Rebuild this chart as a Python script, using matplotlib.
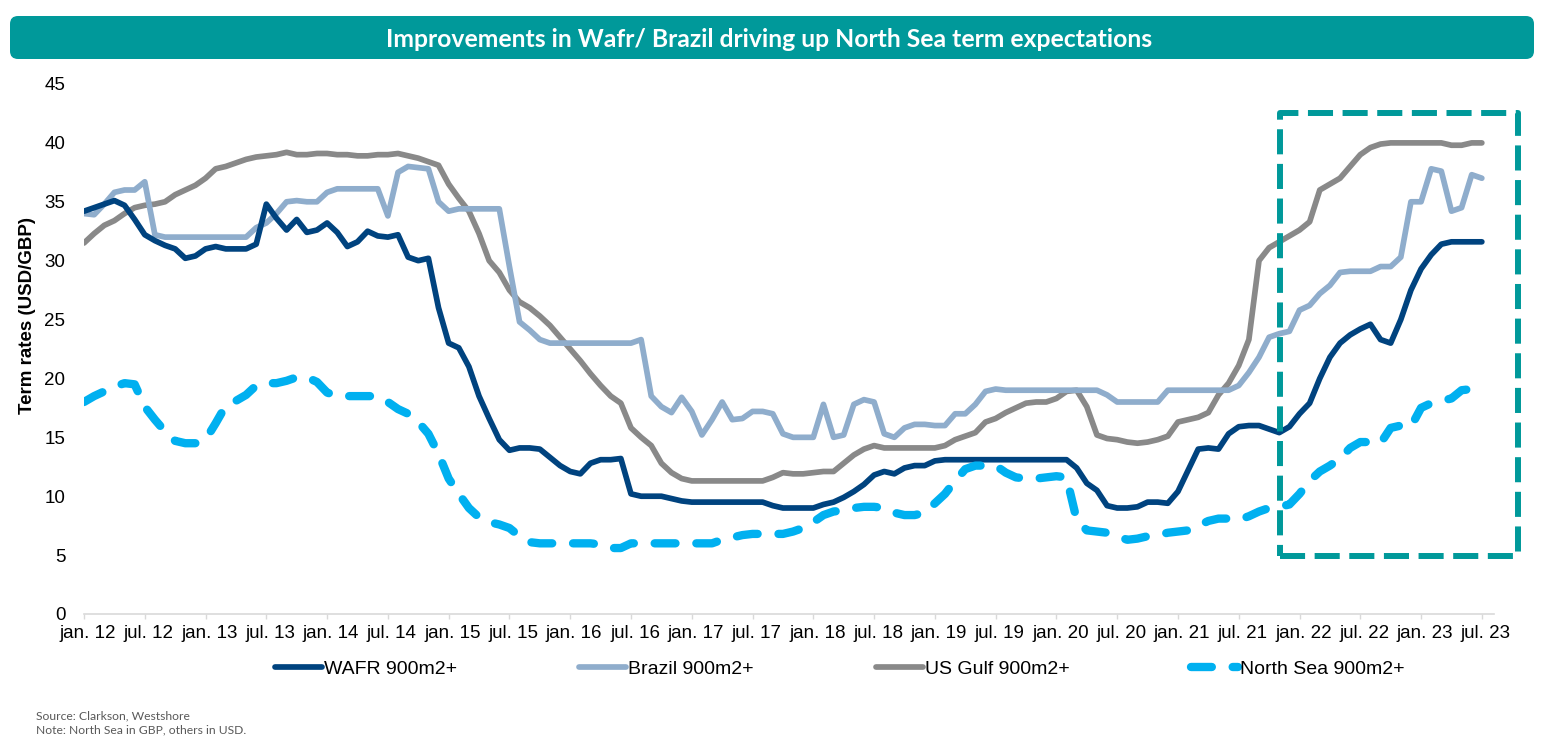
import matplotlib
matplotlib.use("Agg")
import matplotlib.pyplot as plt
import matplotlib.transforms as mtransforms
from matplotlib.patches import FancyBboxPatch, Rectangle
import numpy as np

# ---------------- data ----------------
years = list(range(12, 24))
tick_labels = []
for y in years:
    tick_labels += [f"jan. {y}", f"jul. {y}"]

wafr = [34.2, 34.5, 34.8, 35.1, 34.7, 33.5, 32.2, 31.7, 31.3, 31.0,
        30.2, 30.4, 31.0, 31.2, 31.0, 31.0, 31.0, 31.4, 34.8, 33.6,
        32.6, 33.5, 32.4, 32.6, 33.2, 32.4, 31.2, 31.6, 32.5, 32.1,
        32.0, 32.2, 30.3, 30.0, 30.2, 26.0, 23.0, 22.6, 21.0, 18.5,
        16.6, 14.8, 13.9, 14.1, 14.1, 14.0, 13.3, 12.6, 12.1, 11.9,
        12.8, 13.1, 13.1, 13.2, 10.2, 10.0, 10.0, 10.0, 9.8, 9.6,
        9.5, 9.5, 9.5, 9.5, 9.5, 9.5, 9.5, 9.5, 9.2, 9.0,
        9.0, 9.0, 9.0, 9.3, 9.5, 9.9, 10.4, 11.0, 11.8, 12.1,
        11.9, 12.4, 12.6, 12.6, 13.0, 13.1, 13.1, 13.1, 13.1, 13.1,
        13.1, 13.1, 13.1, 13.1, 13.1, 13.1, 13.1, 13.1, 12.4, 11.1,
        10.5, 9.2, 9.0, 9.0, 9.1, 9.5, 9.5, 9.4, 10.4, 12.2,
        14.0, 14.1, 14.0, 15.3, 15.9, 16.0, 16.0, 15.7, 15.4, 15.9,
        17.0, 17.9, 20.0, 21.8, 23.0, 23.7, 24.2, 24.6, 23.3, 23.0,
        25.0, 27.5, 29.3, 30.5, 31.4, 31.6, 31.6, 31.6, 31.6]

brazil = [34.0, 33.9, 34.8, 35.8, 36.0, 36.0, 36.7, 32.2, 32.0, 32.0,
          32.0, 32.0, 32.0, 32.0, 32.0, 32.0, 32.0, 32.8, 33.2, 34.0,
          35.0, 35.1, 35.0, 35.0, 35.8, 36.1, 36.1, 36.1, 36.1, 36.1,
          33.8, 37.5, 38.0, 37.9, 37.8, 35.0, 34.2, 34.4, 34.4, 34.4,
          34.4, 34.4, 29.5, 24.8, 24.1, 23.3, 23.0, 23.0, 23.0, 23.0,
          23.0, 23.0, 23.0, 23.0, 23.0, 23.3, 18.5, 17.6, 17.1, 18.4,
          17.2, 15.2, 16.5, 18.0, 16.5, 16.6, 17.2, 17.2, 17.0, 15.3,
          15.0, 15.0, 15.0, 17.8, 15.0, 15.2, 17.8, 18.2, 18.0, 15.3,
          15.0, 15.8, 16.1, 16.1, 16.0, 16.0, 17.0, 17.0, 17.8, 18.9,
          19.1, 19.0, 19.0, 19.0, 19.0, 19.0, 19.0, 19.0, 19.0, 19.0,
          19.0, 18.6, 18.0, 18.0, 18.0, 18.0, 18.0, 19.0, 19.0, 19.0,
          19.0, 19.0, 19.0, 19.0, 19.4, 20.5, 21.8, 23.5, 23.8, 24.0,
          25.8, 26.2, 27.2, 27.9, 29.0, 29.1, 29.1, 29.1, 29.5, 29.5,
          30.3, 35.0, 35.0, 37.8, 37.6, 34.2, 34.5, 37.3, 37.0]

us_gulf = [31.5, 32.3, 33.0, 33.4, 34.0, 34.5, 34.7, 34.8, 35.0, 35.6,
           36.0, 36.4, 37.0, 37.8, 38.0, 38.3, 38.6, 38.8, 38.9, 39.0,
           39.2, 39.0, 39.0, 39.1, 39.1, 39.0, 39.0, 38.9, 38.9, 39.0,
           39.0, 39.1, 38.9, 38.7, 38.4, 38.1, 36.5, 35.3, 34.2, 32.3,
           30.0, 29.0, 27.5, 26.5, 26.0, 25.3, 24.5, 23.5, 22.5, 21.5,
           20.4, 19.4, 18.5, 17.9, 15.8, 15.0, 14.3, 12.8, 12.0, 11.5,
           11.3, 11.3, 11.3, 11.3, 11.3, 11.3, 11.3, 11.3, 11.6, 12.0,
           11.9, 11.9, 12.0, 12.1, 12.1, 12.8, 13.5, 14.0, 14.3, 14.1,
           14.1, 14.1, 14.1, 14.1, 14.1, 14.3, 14.8, 15.1, 15.4, 16.3,
           16.6, 17.1, 17.5, 17.9, 18.0, 18.0, 18.3, 18.9, 19.0, 17.6,
           15.2, 14.9, 14.8, 14.6, 14.5, 14.6, 14.8, 15.1, 16.3, 16.5,
           16.7, 17.1, 18.6, 19.6, 21.1, 23.3, 30.0, 31.1, 31.6, 32.1,
           32.6, 33.3, 36.0, 36.5, 37.0, 38.0, 39.0, 39.6, 39.9, 40.0,
           40.0, 40.0, 40.0, 40.0, 40.0, 39.8, 39.8, 40.0, 40.0]

north_sea = [18.0, 18.5, 18.9, 19.3, 19.6, 19.5, 17.6, 16.5, 15.5, 14.7,
             14.5, 14.5, 14.8, 16.2, 17.7, 18.1, 18.6, 19.4, 19.6, 19.6,
             19.8, 20.1, 20.1, 19.7, 18.8, 18.5, 18.5, 18.5, 18.5, 18.5,
             18.0, 17.4, 17.0, 16.3, 15.3, 13.6, 11.5, 10.2, 9.0, 8.2,
             7.8, 7.6, 7.3, 6.6, 6.1, 6.0, 6.0, 6.0, 6.0, 6.0,
             6.0, 5.9, 5.6, 5.6, 6.0, 6.0, 6.0, 6.0, 6.0, 6.0,
             6.0, 6.0, 6.0, 6.3, 6.5, 6.7, 6.8, 6.8, 6.8, 6.8,
             7.0, 7.3, 7.8, 8.4, 8.7, 8.8, 9.0, 9.1, 9.1, 9.0,
             8.6, 8.4, 8.4, 8.6, 9.4, 10.2, 11.3, 12.3, 12.6, 12.6,
             12.6, 12.0, 11.6, 11.5, 11.5, 11.6, 11.7, 11.6, 8.0, 7.1,
             7.0, 6.9, 6.6, 6.3, 6.4, 6.6, 6.7, 6.9, 7.0, 7.1,
             7.5, 7.9, 8.1, 8.1, 8.0, 8.3, 8.7, 9.0, 9.1, 9.3,
             10.2, 11.3, 12.1, 12.6, 13.2, 14.1, 14.6, 14.6, 14.5, 15.8,
             16.0, 15.9, 17.5, 17.9, 18.1, 18.3, 19.0, 19.1, 19.0]

series_names = ["WAFR 900m2+", "Brazil 900m2+", "US Gulf 900m2+", "North Sea 900m2+"]

# ---------------- figure ----------------
W, H = 1544, 742
fig = plt.figure(figsize=(W / 100, H / 100), dpi=100)
plt.rcParams['font.family'] = ['Liberation Sans', 'DejaVu Sans']

# overlay axes in pixel coordinates for decorations
deco = fig.add_axes([0, 0, 1, 1], zorder=0)
deco.set_xlim(0, W)
deco.set_ylim(H, 0)
deco.axis("off")

TEAL = "#00999A"
banner = FancyBboxPatch((10, 16), 1524, 43, boxstyle="round,pad=0,rounding_size=8",
                        facecolor=TEAL, edgecolor="none")
deco.add_patch(banner)

ax = fig.add_axes([84 / W, 1 - 614 / H, 1410 / W, 530 / H], zorder=2)
ax.patch.set_alpha(0)

months = np.arange(len(wafr))
C_WAFR = "#00437F"
C_BRA = "#8FADCC"
C_GULF = "#898989"
C_NS = "#00B0F0"

lw_main = 4.1
ax.plot(months, us_gulf, color=C_GULF, lw=lw_main, solid_capstyle="round",
        solid_joinstyle="round", label=series_names[2], zorder=3)
ax.plot(months, brazil, color=C_BRA, lw=lw_main, solid_capstyle="round",
        solid_joinstyle="round", label=series_names[1], zorder=4)
ax.plot(months, wafr, color=C_WAFR, lw=lw_main, solid_capstyle="round",
        solid_joinstyle="round", label=series_names[0], zorder=5)
ax.plot(months[:len(north_sea)], north_sea, color=C_NS, lw=6.0, dashes=(2.5, 2.5),
        dash_capstyle="round", dash_joinstyle="round", label=series_names[3], zorder=6)

ax.set_xlim(0, 139.2)
ax.set_ylim(0, 45)
ax.set_yticks(np.arange(0, 46, 5))
ax.set_xticks(np.arange(0, 6 * len(tick_labels), 6))
ax.set_xticklabels(tick_labels)

for s in ["top", "right", "left"]:
    ax.spines[s].set_visible(False)
ax.spines["bottom"].set_color("#D9D9D9")
ax.spines["bottom"].set_linewidth(1.2)
ax.tick_params(axis="y", length=0, pad=13.5, labelsize=13.5, labelcolor="black")
ax.tick_params(axis="x", length=3.6, width=1.0, color="#D9D9D9", pad=4,
               labelsize=13.5, labelcolor="black")
offset = mtransforms.ScaledTranslation(4 / 100, 0, fig.dpi_scale_trans)
for lab in ax.get_xticklabels():
    lab.set_transform(lab.get_transform() + offset)

# highlight box
rect = Rectangle((118.1, 4.9), 23.5, 37.6, fill=False, edgecolor=TEAL, lw=4.3,
                 linestyle=(0, (4.2, 1.6)), joinstyle="round", clip_on=False, zorder=7)
ax.add_patch(rect)

# y label
fig.text(28 / W, 1 - 315 / H, "Term rates (USD/GBP)", rotation=90, ha="center",
         va="center", fontsize=13.5, fontweight="bold", color="black")

# title
title = fig.text(769 / W, 1 - 47 / H, "Improvements in Wafr/ Brazil driving up North Sea term expectations",
                 ha="center", va="baseline", color="white", fontsize=16, fontweight="bold",
                 family=["Lato", "DejaVu Sans"])

src1 = fig.text(36 / W, 1 - 719 / H, "Source: Clarkson, Westshore", ha="left", va="baseline",
                fontsize=8.5, color="#595959", family=["Lato", "DejaVu Sans"])
src2 = fig.text(36 / W, 1 - 733 / H, "Note: North Sea in GBP, others in USD.", ha="left",
                va="baseline", fontsize=8.5, color="#595959", family=["Lato", "DejaVu Sans"])

# legend
handles, labels = ax.get_legend_handles_labels()
order = [labels.index(n) for n in series_names]
leg = fig.legend([handles[i] for i in order], [labels[i] for i in order],
                 loc="center", bbox_to_anchor=(840 / W, 1 - 669 / H), ncol=4,
                 frameon=False, fontsize=14, handlelength=2.42, handletextpad=0.1,
                 columnspacing=6.26)

# fit text widths to reference
fig.canvas.draw()
r = fig.canvas.get_renderer()
for t, target in [(title, 770), (src1, 154)]:
    w = t.get_window_extent(r).width
    t.set_fontsize(t.get_fontsize() * target / w)
src2.set_fontsize(src1.get_fontsize())

fig.savefig("out.png", dpi=100)
